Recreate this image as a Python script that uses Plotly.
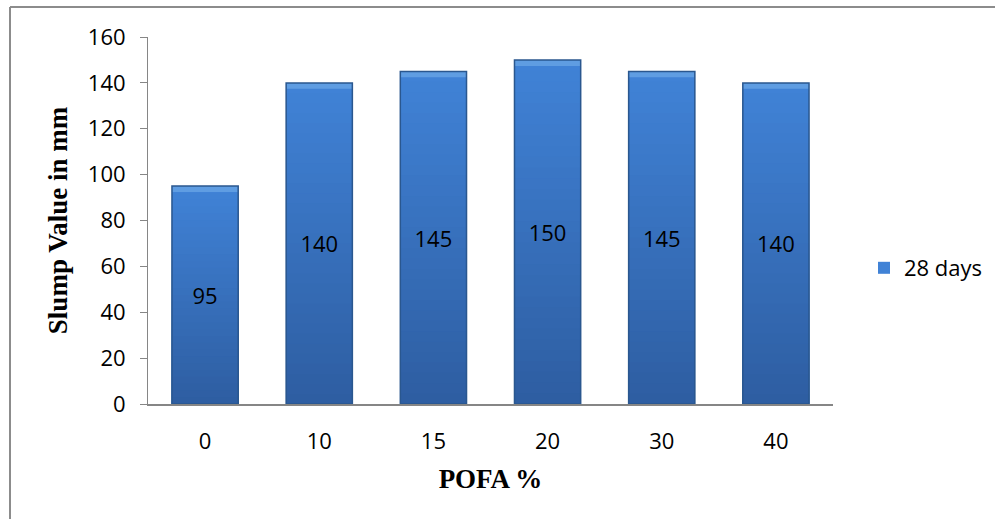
import plotly.graph_objects as go

# Slump values for each POFA replacement level
pofa_levels = ["0", "10", "15", "20", "30", "40"]
slump_mm = [95, 140, 145, 150, 145, 140]
series_name = "28 days"
y_ticks = [0, 20, 40, 60, 80, 100, 120, 140, 160]

W, H = 995, 519
L, R, T, B = 148, 162, 37, 115
plot_w, plot_h = W - L - R, H - T - B


def px_to_paper(px, py):
    return (px - L) / plot_w, (H - B - py) / plot_h


tick_font = dict(family="Open Sans, Lato, sans-serif", size=22, color="#000000")
title_font = dict(family="Liberation Serif, Times New Roman, serif", size=27, color="#000000")

fig = go.Figure()

# Vertical shading: stacked overlays, from lighter top tone to darker bottom tone
n_bands = 32
top_rgb = (64, 130, 214)
bot_rgb = (46, 94, 162)
for i in range(n_bands):
    frac = 1 - i / n_bands
    t = i / (n_bands - 1)
    col = tuple(round(top_rgb[k] + (bot_rgb[k] - top_rgb[k]) * t) for k in range(3))
    fig.add_trace(go.Bar(
        x=pofa_levels, y=[v * frac for v in slump_mm],
        marker=dict(color="rgb(%d,%d,%d)" % col, line=dict(width=0)),
        showlegend=(i == 0), name=series_name, hoverinfo="skip",
        legendgroup="s",
    ))

# Top bevel highlight
bevel = 2.6
fig.add_trace(go.Bar(
    x=pofa_levels, y=[bevel] * len(slump_mm), base=[v - bevel for v in slump_mm],
    marker=dict(color="#5f9de2", line=dict(width=0)),
    showlegend=False, hoverinfo="skip",
))

# Outline and value labels
fig.add_trace(go.Bar(
    x=pofa_levels, y=slump_mm,
    marker=dict(color="rgba(0,0,0,0)", line=dict(color="#2a578f", width=1.5)),
    text=[str(v) for v in slump_mm], textposition="inside",
    insidetextanchor="middle", textfont=tick_font,
    showlegend=False, name=series_name,
))

# Figure frame (top and left edges)
x0, y0 = px_to_paper(10, 7)
x1, y1 = px_to_paper(W + 5, H + 5)
fig.add_shape(type="line", xref="paper", yref="paper", x0=x0, y0=y0, x1=x1, y1=y0,
              line=dict(color="#8c8c8c", width=2))
fig.add_shape(type="line", xref="paper", yref="paper", x0=x0, y0=y0, x1=x0, y1=y1,
              line=dict(color="#8c8c8c", width=2))

lx, ly = px_to_paper(864, 268)

fig.update_layout(
    width=W, height=H,
    margin=dict(l=L, r=R, t=T, b=B, autoexpand=False),
    paper_bgcolor="white", plot_bgcolor="white",
    barmode="overlay", bargap=0.42,
    showlegend=True,
    legend=dict(x=lx, y=ly, xanchor="left", yanchor="middle",
                font=tick_font, bgcolor="rgba(0,0,0,0)",
                itemwidth=30, tracegroupgap=0),
    xaxis=dict(
        type="category", showline=True, linecolor="#868686", linewidth=2,
        ticks="", tickfont=tick_font, showgrid=False, ticklabelstandoff=17,
        title=dict(text="<b>POFA %</b>", font=title_font, standoff=15),
    ),
    yaxis=dict(
        range=[0, 160], tickvals=y_ticks, showline=True, linecolor="#868686",
        linewidth=1, ticks="outside", ticklen=7, tickcolor="#868686",
        tickfont=tick_font, showgrid=False, zeroline=False, ticklabelstandoff=10,
        title=dict(text="<b>Slump Value in mm</b>", font=title_font, standoff=12),
    ),
)

fig.write_html("out.html")
